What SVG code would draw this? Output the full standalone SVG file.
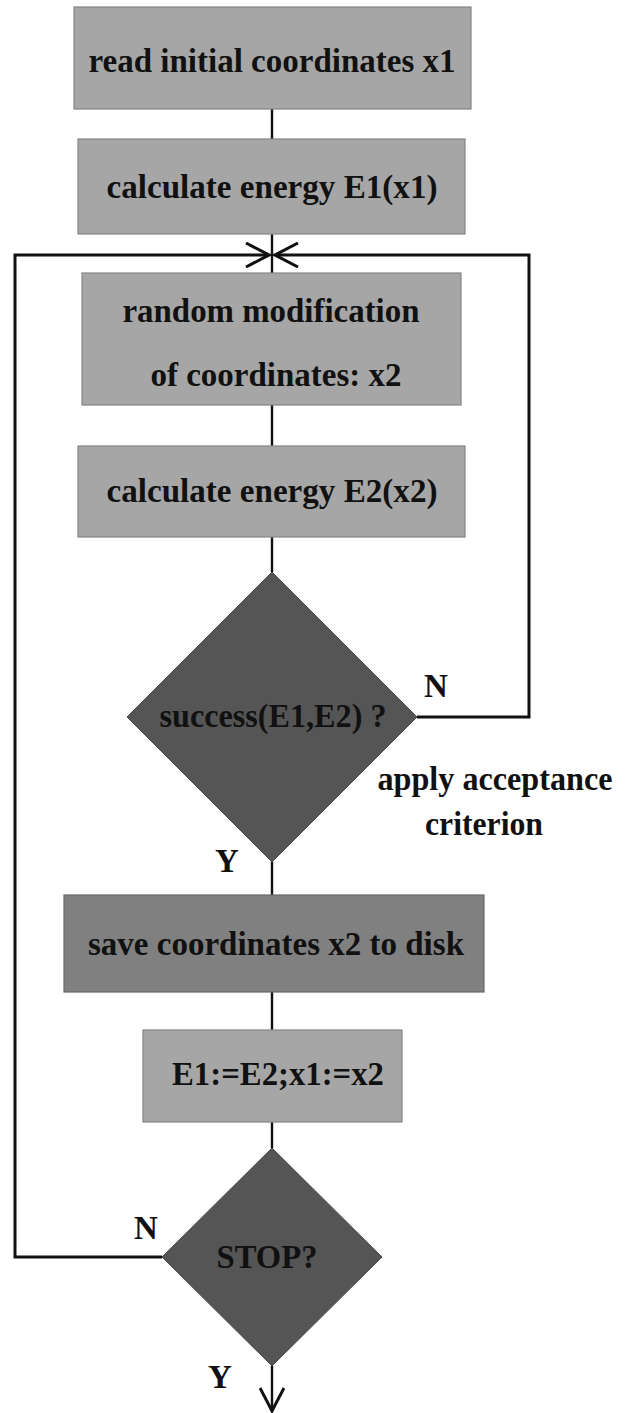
<svg xmlns="http://www.w3.org/2000/svg" width="630" height="1413" viewBox="0 0 630 1413">
<style>
.box{fill:#a6a6a6;stroke:#858585;stroke-width:1.2}
.dark{fill:#808080;stroke:#6a6a6a;stroke-width:1.2}
.dia{fill:#555555;stroke:#4a4a4a;stroke-width:1}
.t{font-family:"Liberation Serif","Times New Roman",serif;font-weight:bold;font-size:33px;fill:#111;text-anchor:middle}
.c{fill:none;stroke:#111;stroke-width:2.4}
.loop{fill:none;stroke:#111;stroke-width:3}
</style>
<defs>
<marker id="open" markerUnits="userSpaceOnUse" viewBox="0 0 26 26" markerWidth="26" markerHeight="26" refX="24" refY="13" orient="auto">
<path d="M1,1 L24,13 L1,25" fill="none" stroke="#111" stroke-width="3"/>
</marker>
</defs>
<g id="connectors">
<line class="c" x1="272" y1="109" x2="272" y2="139"/>
<line class="c" x1="272" y1="234" x2="272" y2="273"/>
<line class="c" x1="272" y1="405" x2="272" y2="446"/>
<line class="c" x1="272" y1="537" x2="272" y2="572"/>
<line class="c" x1="272" y1="862" x2="272" y2="895"/>
<line class="c" x1="272" y1="992" x2="272" y2="1030"/>
<line class="c" x1="272" y1="1122" x2="272" y2="1148"/>
<path class="c" d="M272,1366 L272,1411" marker-end="url(#open)"/>
<path class="loop" d="M417,717 L529,717 L529,255 L275,255" marker-end="url(#open)"/>
<path class="loop" d="M162,1257 L15,1257 L15,255 L269,255" marker-end="url(#open)"/>
</g>
<g id="n1">
<rect class="box" x="74" y="7" width="397" height="102"/>
<text class="t" x="272" y="72" textLength="367" lengthAdjust="spacingAndGlyphs">read initial coordinates x1</text>
</g>
<g id="n2">
<rect class="box" x="78" y="139" width="387" height="95"/>
<text class="t" x="272" y="198" textLength="331" lengthAdjust="spacingAndGlyphs">calculate energy E1(x1)</text>
</g>
<g id="n3">
<rect class="box" x="82" y="273" width="379" height="132"/>
<text class="t" x="271" y="322" textLength="297" lengthAdjust="spacingAndGlyphs">random modification</text>
<text class="t" x="276" y="386" textLength="251" lengthAdjust="spacingAndGlyphs">of coordinates: x2</text>
</g>
<g id="n4">
<rect class="box" x="78" y="446" width="387" height="91"/>
<text class="t" x="272" y="502" textLength="331" lengthAdjust="spacingAndGlyphs">calculate energy E2(x2)</text>
</g>
<g id="d1">
<polygon class="dia" points="272,572 417,717 272,862 127,717"/>
<text class="t" x="273" y="727" textLength="227" lengthAdjust="spacingAndGlyphs">success(E1,E2) ?</text>
<text class="t" x="436" y="697">N</text>
<text class="t" x="227" y="872">Y</text>
<text class="t" x="495" y="790" textLength="235" lengthAdjust="spacingAndGlyphs">apply acceptance</text>
<text class="t" x="484" y="835" textLength="118" lengthAdjust="spacingAndGlyphs">criterion</text>
</g>
<g id="n5">
<rect class="dark" x="64" y="895" width="420" height="97"/>
<text class="t" x="276" y="955" textLength="376" lengthAdjust="spacingAndGlyphs">save coordinates x2 to disk</text>
</g>
<g id="n6">
<rect class="box" x="143" y="1030" width="259" height="92"/>
<text class="t" x="278" y="1085" textLength="212" lengthAdjust="spacingAndGlyphs">E1:=E2;x1:=x2</text>
</g>
<g id="d2">
<polygon class="dia" points="272,1148 382,1257 272,1366 162,1257"/>
<text class="t" x="267" y="1268" textLength="101" lengthAdjust="spacingAndGlyphs">STOP?</text>
<text class="t" x="146" y="1239">N</text>
<text class="t" x="220" y="1388">Y</text>
</g>
</svg>
